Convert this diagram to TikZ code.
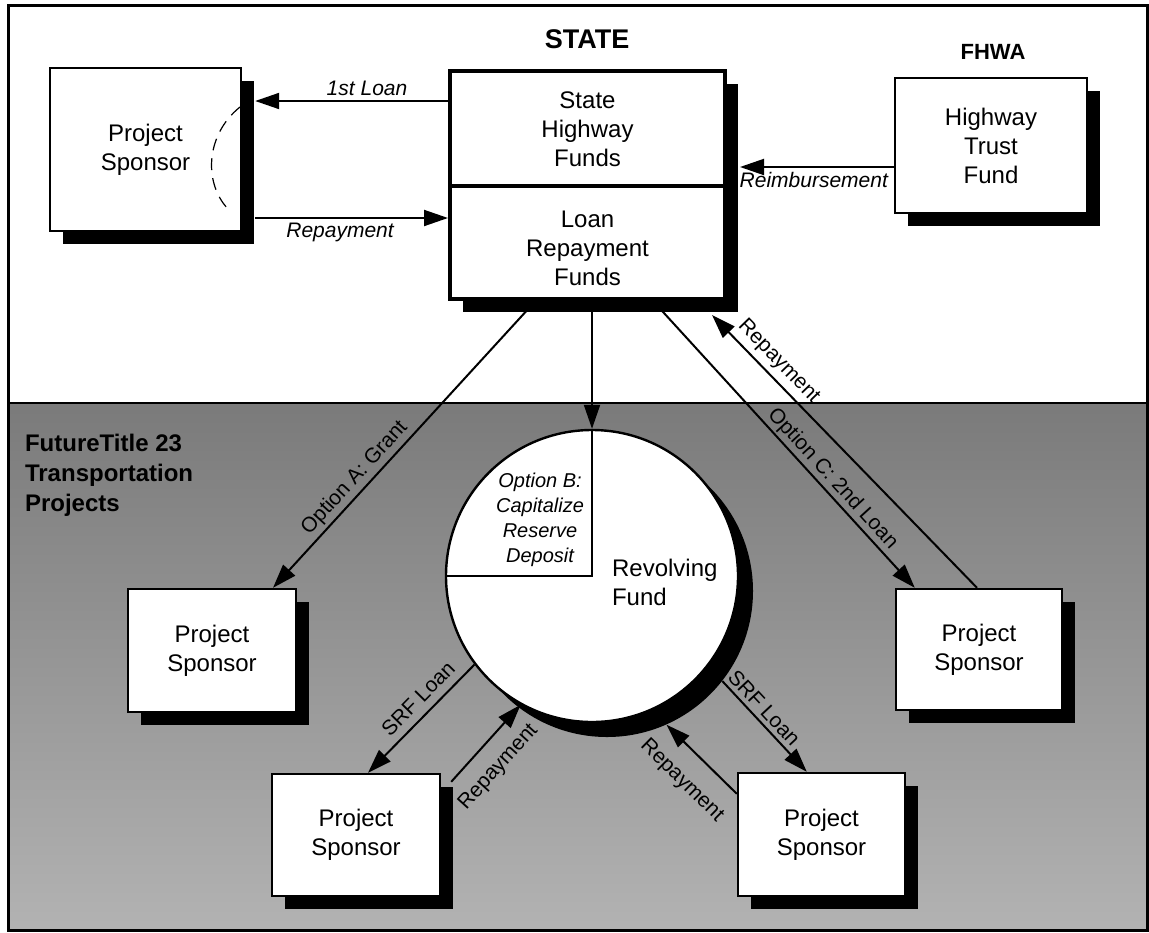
\documentclass[tikz,border=0pt]{standalone}
\usepackage{fontspec}
\setmainfont{Liberation Sans}
\usetikzlibrary{arrows.meta,shadows,calc}
\begin{document}
\begin{tikzpicture}[x=0.5pt,y=-0.5pt,
  >={Triangle[length=12pt,width=8pt]},
  conn/.style={line width=1pt,->},
  box/.style={draw,line width=1.2pt,fill=white,align=center,inner sep=0pt,
     font=\fontsize{12}{14.5}\selectfont,
     drop shadow={shadow xshift=6.5pt,shadow yshift=-6.5pt,fill=black,opacity=1}},
  txt/.style={align=center,font=\fontsize{12}{14.5}\selectfont},
  lbl/.style={font=\fontsize{10.5}{12}\selectfont\itshape,inner sep=1pt},
  slbl/.style={font=\fontsize{10.5}{12}\selectfont,sloped,inner sep=1pt},
  head/.style={font=\bfseries\fontsize{13.5}{16}\selectfont},
]
\useasboundingbox (0,0) rectangle (1149,932);
\fill[white] (0,0) rectangle (1149,932);
\shade[top color=black!52, bottom color=black!30] (8,403) rectangle (1147,930);
\draw[line width=0.8pt] (8,403) -- (1147,403);
\draw[line width=1.5pt] (8,5) rectangle (1147,930);

% headings
\node[head] (statelbl) at (587,39) {STATE};
\node[font=\bfseries\fontsize{11}{13}\selectfont] (fhwalbl) at (993,52) {FHWA};
\node[font=\bfseries\fontsize{12}{15}\selectfont,align=left,anchor=west] (ft) at (18,475) {FutureTitle 23\\Transportation\\Projects};

% top boxes
\node[box,minimum width=95.5pt,minimum height=81.5pt] (sp1) at (145.5,149.5) {Project\\Sponsor};
\draw[dash pattern=on 6pt off 4pt,line width=0.6pt] (240,107) .. controls (205,135) and (203,185) .. (230,211);

\node[box,line width=2pt,minimum width=137.5pt,minimum height=114pt] (state) at (587.5,185) {};
\node[txt] (shf) at (587.5,129) {State\\Highway\\Funds};
\node[txt] (lrf) at (587.5,248) {Loan\\Repayment\\Funds};
\draw[line width=2pt] (state.west |- 0,186) -- (state.east |- 0,186);

\node[box,minimum width=96pt,minimum height=67.5pt] (fhwa) at (991,145.5) {Highway\\Trust\\Fund};

% lower boxes
\node[box,minimum width=84pt,minimum height=61.5pt] (sp2) at (212,650.5) {Project\\Sponsor};
\node[box,minimum width=83pt,minimum height=60.5pt] (sp3) at (979,649.5) {Project\\Sponsor};
\node[box,minimum width=84pt,minimum height=61pt] (sp4) at (356,835) {Project\\Sponsor};
\node[box,minimum width=83.5pt,minimum height=61.5pt] (sp5) at (821.5,834.5) {Project\\Sponsor};

% revolving fund circle
\node[circle,fill=black,minimum size=146pt,inner sep=0pt] (circsh) at (607,591) {};
\node[circle,draw,line width=1.2pt,fill=white,minimum size=146pt,inner sep=0pt] (circ) at (592,576) {};
\draw[line width=1pt] (circ.north) -- (circ.center) -- (circ.west);
\node[font=\fontsize{10}{12.5}\selectfont\itshape,align=center] (optb) at (540,520) {Option B:\\Capitalize\\Reserve\\Deposit};
\node[txt,align=left,anchor=west] (rev) at (605,582) {Revolving\\Fund};

% top connectors
\coordinate (sp1e) at ($(sp1.east)+(13,0)$);
\coordinate (l1) at ($(state.north west)+(0,32)$);
\draw[conn] (l1) -- (l1 -| sp1e) node[lbl,pos=0.42,above=1pt] {1st Loan};
\coordinate (r1) at ($(state.north west)+(0,149)$);
\draw[conn] (r1 -| sp1e) -- (r1) node[lbl,pos=0.44,below=1pt] {Repayment};
\coordinate (stsh) at ($(state.east)+(13,0)$);
\coordinate (rb) at ($(fhwa.west)+(0,21.5)$);
\draw[conn] (rb) -- (rb -| stsh) node[lbl,pos=0.52,below=1pt] {Reimbursement};

% from state downwards
\draw[conn] ($(state.south)+(-52,0)$) -- ($(sp2.north)+(61,0)$) node[slbl,pos=0.65,above=0.5pt] {Option A: Grant};
\draw[conn] (state.south -| circ.north) -- (circ.north);
\draw[conn] ($(state.south)+(65.5,0)$) -- ($(sp3.north west)+(20,0)$) node[slbl,pos=0.65,above=0pt] {Option C: 2nd Loan};
\draw[conn] ($(sp3.north)+(-2,0)$) -- ($(state.south east)+(-15,14)$) node[slbl,pos=0.79,above=1.5pt] {Repayment};

% around the circle
\draw[conn] (circ.217) -- ($(sp4.north)+(12,0)$) node[slbl,pos=0.42,above=3pt] {SRF Loan};
\draw[conn] ($(sp4.north east)+(10,9)$) -- (circ.241) node[slbl,pos=0.41,below=6.5pt] {Repayment};
\draw[conn] (circsh.322) -- ($(sp5.north west)+(70,0)$) node[slbl,pos=0.39,above=1pt] {SRF Loan};
\draw[conn] ($(sp5.north west)+(0,22)$) -- (circsh.294) node[slbl,pos=0.49,below=8.5pt] {Repayment};
\end{tikzpicture}
\end{document}
